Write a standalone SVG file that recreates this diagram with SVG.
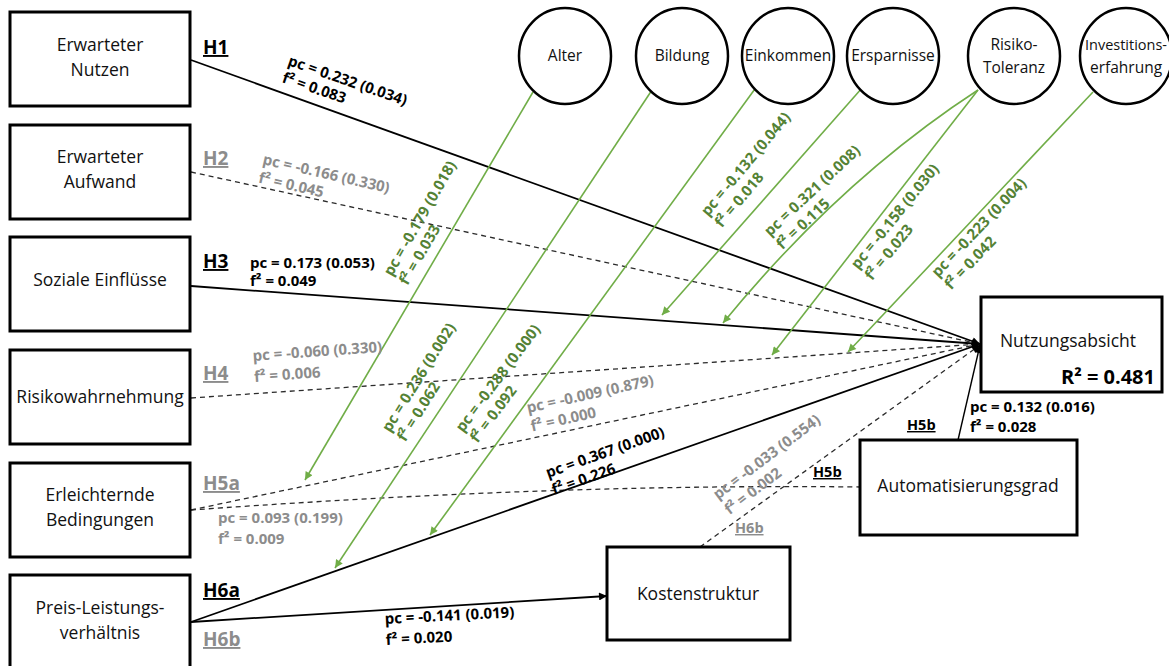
<svg xmlns="http://www.w3.org/2000/svg" width="1169" height="666" viewBox="0 0 1169 666">
<style>
.box{fill:#fff;stroke:#000;stroke-width:3}
.circ{fill:#fff;stroke:#000;stroke-width:2.5}
.nt{font-family:"Open Sans","Liberation Sans",sans-serif;font-size:17.5px;fill:#111;text-anchor:middle}
.ct{font-family:"Open Sans","Liberation Sans",sans-serif;font-size:15.5px;fill:#111;text-anchor:middle}
.sol{fill:none;stroke:#000;stroke-width:1.8}
.dash{fill:none;stroke:#2b2b2b;stroke-width:1.3;stroke-dasharray:5 4}
.grn{fill:none;stroke:#70AD47;stroke-width:1.6}
.lb{font-family:"Open Sans","Liberation Sans",sans-serif;font-size:15px;font-weight:700}
.blk{fill:#000}
.gry{fill:#8c8c8c}
.gt{fill:#548235}
.h{font-family:"Open Sans","Liberation Sans",sans-serif;font-size:19px;font-weight:700;text-decoration:underline}
.hs{font-family:"Open Sans","Liberation Sans",sans-serif;font-size:14.5px;font-weight:700;text-decoration:underline}
</style>
<defs>
<marker id="ah" viewBox="0 0 10 10" refX="10" refY="5" markerWidth="10" markerHeight="8" markerUnits="userSpaceOnUse" orient="auto"><path d="M0,0 L10,5 L0,10 z" fill="#000"/></marker>
<marker id="ag" viewBox="0 0 10 10" refX="10" refY="5" markerWidth="10" markerHeight="8" markerUnits="userSpaceOnUse" orient="auto"><path d="M0,0 L10,5 L0,10 z" fill="#70AD47"/></marker>
</defs>
<rect width="1169" height="666" fill="#fff"/>

<g id="connectors">
<path class="sol" d="M191,60 L980,344" marker-end="url(#ah)"/>
<path class="dash" d="M191,172 L980,344" marker-end="url(#ah)"/>
<path class="sol" d="M191,286 L980,344" marker-end="url(#ah)"/>
<path class="dash" d="M191,398 L980,344" marker-end="url(#ah)"/>
<path class="dash" d="M191,510 L980,344" marker-end="url(#ah)"/>
<path class="dash" d="M191,510 C360,498 600,484 860,487"/>
<path class="sol" d="M191,622 L980,344" marker-end="url(#ah)"/>
<path class="sol" d="M191,622 L607,596" marker-end="url(#ah)"/>
<path class="dash" d="M700,547 L980,345" marker-end="url(#ah)"/>
<path class="sol" d="M958,440 L980,345" marker-end="url(#ah)" style="stroke-width:1.4"/>
<path class="grn" d="M533,92 L305,480" marker-end="url(#ag)"/>
<path class="grn" d="M652,90 L335,568" marker-end="url(#ag)"/>
<path class="grn" d="M760,82 L430,535" marker-end="url(#ag)"/>
<path class="grn" d="M862,88 L662,315" marker-end="url(#ag)"/>
<path class="grn" d="M978,90 Q840,180 723,323" marker-end="url(#ag)"/>
<path class="grn" d="M978,90 L772,355" marker-end="url(#ag)"/>
<path class="grn" d="M1093,92 L848,352" marker-end="url(#ag)"/>
</g>

<g id="labels">
<text class="h blk" x="203" y="54">H1</text>
<text class="h gry" x="203" y="165">H2</text>
<text class="h blk" x="203" y="268">H3</text>
<text class="h gry" x="203" y="380">H4</text>
<text class="h gry" x="203" y="490">H5a</text>
<text class="h blk" x="203" y="597">H6a</text>
<text class="h gry" x="203" y="646">H6b</text>
<text class="hs blk" x="907" y="430">H5b</text>
<text class="hs blk" x="813" y="477">H5b</text>
<text class="hs gry" x="735" y="533">H6b</text>

<text class="lb blk" transform="translate(287,65) rotate(19)"><tspan x="0">pc = 0.232 (0.034)</tspan><tspan x="0" dy="18">f² = 0.083</tspan></text>
<text class="lb gry" transform="translate(262,164) rotate(13)"><tspan x="0">pc = -0.166 (0.330)</tspan><tspan x="0" dy="19">f² = 0.045</tspan></text>
<text class="lb blk" x="250" y="268">pc = 0.173 (0.053)<tspan x="250" dy="18">f² = 0.049</tspan></text>
<text class="lb gry" transform="translate(253,361) rotate(-4)"><tspan x="0">pc = -0.060 (0.330)</tspan><tspan x="0" dy="21">f² = 0.006</tspan></text>
<text class="lb gry" transform="translate(528,413) rotate(-12.5)"><tspan x="0">pc = -0.009 (0.879)</tspan><tspan x="0" dy="19">f² = 0.000</tspan></text>
<text class="lb gry" x="218" y="523">pc = 0.093 (0.199)<tspan x="218" dy="21">f² = 0.009</tspan></text>
<text class="lb blk" transform="translate(548,478) rotate(-19.5)"><tspan x="0">pc = 0.367 (0.000)</tspan><tspan x="0" dy="18">f² = 0.226</tspan></text>
<text class="lb blk" transform="translate(385,624) rotate(-3)"><tspan x="0">pc = -0.141 (0.019)</tspan><tspan x="0" dy="21">f² = 0.020</tspan></text>
<text class="lb gry" transform="translate(718,500) rotate(-37)"><tspan x="0">pc = -0.033 (0.554)</tspan><tspan x="0" dy="19">f² = 0.002</tspan></text>
<text class="lb blk" x="970" y="412">pc = 0.132 (0.016)<tspan x="970" dy="20">f² = 0.028</tspan></text>

<text class="lb gt" transform="translate(392,277) rotate(-60)"><tspan x="0">pc = -0.179 (0.018)</tspan><tspan x="0" dy="18">f² = 0.033</tspan></text>
<text class="lb gt" transform="translate(390,433) rotate(-58)"><tspan x="0">pc = 0.236 (0.002)</tspan><tspan x="0" dy="18">f² = 0.062</tspan></text>
<text class="lb gt" transform="translate(463,433) rotate(-53)"><tspan x="0">pc = -0.288 (0.000)</tspan><tspan x="0" dy="18">f² = 0.092</tspan></text>
<text class="lb gt" transform="translate(708,217) rotate(-50)"><tspan x="0">pc = -0.132 (0.044)</tspan><tspan x="0" dy="18">f² = 0.018</tspan></text>
<text class="lb gt" transform="translate(770,237) rotate(-43)"><tspan x="0">pc = 0.321 (0.008)</tspan><tspan x="0" dy="18">f² = 0.115</tspan></text>
<text class="lb gt" transform="translate(858,270) rotate(-51)"><tspan x="0">pc = -0.158 (0.030)</tspan><tspan x="0" dy="18">f² = 0.023</tspan></text>
<text class="lb gt" transform="translate(938,278) rotate(-46.5)"><tspan x="0">pc = -0.223 (0.004)</tspan><tspan x="0" dy="18">f² = 0.042</tspan></text>
</g>

<g id="n-nutzen"><rect class="box" x="10" y="12" width="180" height="94"/><text class="nt" x="100" y="51">Erwarteter</text><text class="nt" x="100" y="76">Nutzen</text></g>
<g id="n-aufwand"><rect class="box" x="10" y="125" width="180" height="94"/><text class="nt" x="100" y="163">Erwarteter</text><text class="nt" x="100" y="188">Aufwand</text></g>
<g id="n-sozial"><rect class="box" x="10" y="237" width="180" height="94"/><text class="nt" x="100" y="286">Soziale Einflüsse</text></g>
<g id="n-risiko"><rect class="box" x="10" y="350" width="180" height="94"/><text class="nt" x="100" y="403">Risikowahrnehmung</text></g>
<g id="n-erleicht"><rect class="box" x="10" y="463" width="180" height="94"/><text class="nt" x="100" y="501">Erleichternde</text><text class="nt" x="100" y="526">Bedingungen</text></g>
<g id="n-preis"><rect class="box" x="10" y="575" width="180" height="94"/><text class="nt" x="100" y="614">Preis-Leistungs-</text><text class="nt" x="100" y="639">verhältnis</text></g>

<g id="n-nutzungsabsicht"><rect class="box" x="981" y="297" width="181" height="95"/><text class="nt" x="1068" y="347">Nutzungsabsicht</text><text x="1155" y="384" style="font-family:'Open Sans','Liberation Sans',sans-serif;font-size:20px;font-weight:700;text-anchor:end">R² = 0.481</text></g>
<g id="n-auto"><rect class="box" x="860" y="440" width="217" height="95"/><text class="nt" x="968" y="492">Automatisierungsgrad</text></g>
<g id="n-kosten"><rect class="box" x="607" y="547" width="183" height="93"/><text class="nt" x="698" y="600">Kostenstruktur</text></g>

<g id="n-alter"><ellipse class="circ" cx="565" cy="56" rx="46" ry="48"/><text class="ct" x="565" y="61">Alter</text></g>
<g id="n-bildung"><ellipse class="circ" cx="682" cy="56" rx="46" ry="48"/><text class="ct" x="682" y="61">Bildung</text></g>
<g id="n-einkommen"><ellipse class="circ" cx="788" cy="56" rx="46" ry="48"/><text class="ct" x="788" y="61">Einkommen</text></g>
<g id="n-ersparnisse"><ellipse class="circ" cx="893" cy="56" rx="46" ry="48"/><text class="ct" x="893" y="61">Ersparnisse</text></g>
<g id="n-risikotol"><ellipse class="circ" cx="1014" cy="56" rx="46" ry="48"/><text class="ct" x="1014" y="50">Risiko-</text><text class="ct" x="1014" y="73">Toleranz</text></g>
<g id="n-invest"><ellipse class="circ" cx="1126" cy="56" rx="46" ry="48"/><text class="ct" x="1126" y="50" style="font-size:14.5px">Investitions-</text><text class="ct" x="1126" y="73">erfahrung</text></g>
</svg>
